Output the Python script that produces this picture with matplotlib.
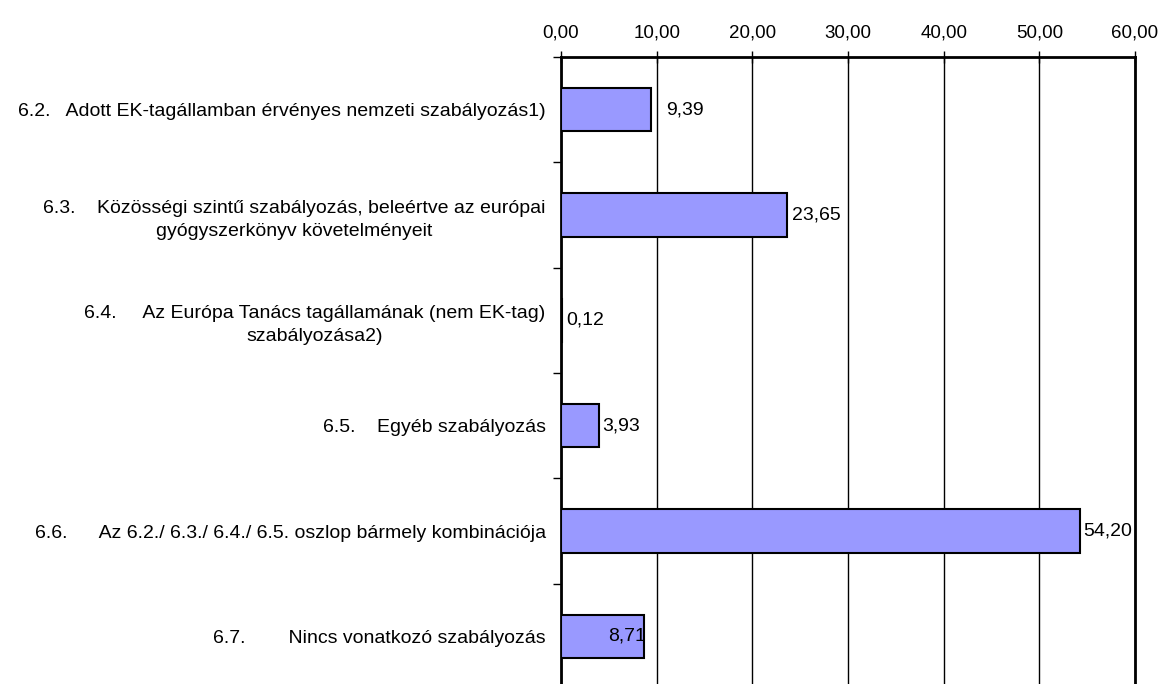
import matplotlib.pyplot as plt
import numpy as np

plt.rcParams['font.family'] = ['Liberation Sans', 'DejaVu Sans']

categories = [
    '6.2.   Adott EK-tagállamban érvényes nemzeti szabályozás1)',
    '6.3.    Közösségi szintű szabályozás, beleértve az európai\ngyógyszerkönyv követelményeit',
    '6.4.     Az Európa Tanács tagállamának (nem EK-tag)\nszabályozása2)',
    '6.5.    Egyéb szabályozás',
    '6.6.      Az 6.2./ 6.3./ 6.4./ 6.5. oszlop bármely kombinációja',
    '6.7.        Nincs vonatkozó szabályozás',
]
values = [9.39, 23.65, 0.12, 3.93, 54.20, 8.71]
xticks = [0, 10, 20, 30, 40, 50, 60]

fig = plt.figure(figsize=(11.6, 6.84), dpi=100)
ax = fig.add_axes([561 / 1160, -5 / 684, 574 / 1160, 632 / 684])

y = np.arange(len(values))
ax.barh(y, values, height=0.41, color='#9999FF', edgecolor='black',
        linewidth=1.5, zorder=3)

# value labels, nudged a bit like the original layout (offsets in px)
offsets = [15, 5, 4, 4, 4, 0]
for yi, v, off in zip(y, values, offsets):
    txt = f'{v:.2f}'.replace('.', ',')
    if off == 0:
        ax.annotate(txt, (v, yi), xytext=(1, 0), textcoords='offset points',
                    ha='right', va='center', fontsize=14, zorder=4)
    else:
        ax.annotate(txt, (v, yi), xytext=(off * 0.72, 0), textcoords='offset points',
                    ha='left', va='center', fontsize=14, zorder=4)

ax.set_xlim(0, 60)
ax.set_ylim(len(values) - 0.5, -0.5)
ax.xaxis.tick_top()
ax.set_xticks(xticks)
ax.set_xticklabels([f'{t:.2f}'.replace('.', ',') for t in xticks], fontsize=13.5)
ax.tick_params(axis='x', direction='inout', length=9, width=1, pad=7)
ax.grid(axis='x', color='black', linewidth=1, zorder=1)

ax.set_yticks(y)
ax.set_yticklabels(categories, fontsize=14, multialignment='center',
                   linespacing=1.45)
ax.tick_params(axis='y', length=0, pad=11)
ax.set_yticks(np.arange(len(values) + 1) - 0.5, minor=True)
ax.tick_params(axis='y', which='minor', direction='out', length=6, width=1)

for side in ['top', 'left', 'right']:
    ax.spines[side].set_linewidth(2)
ax.spines['bottom'].set_visible(False)

fig.savefig('out.png', dpi=100)
